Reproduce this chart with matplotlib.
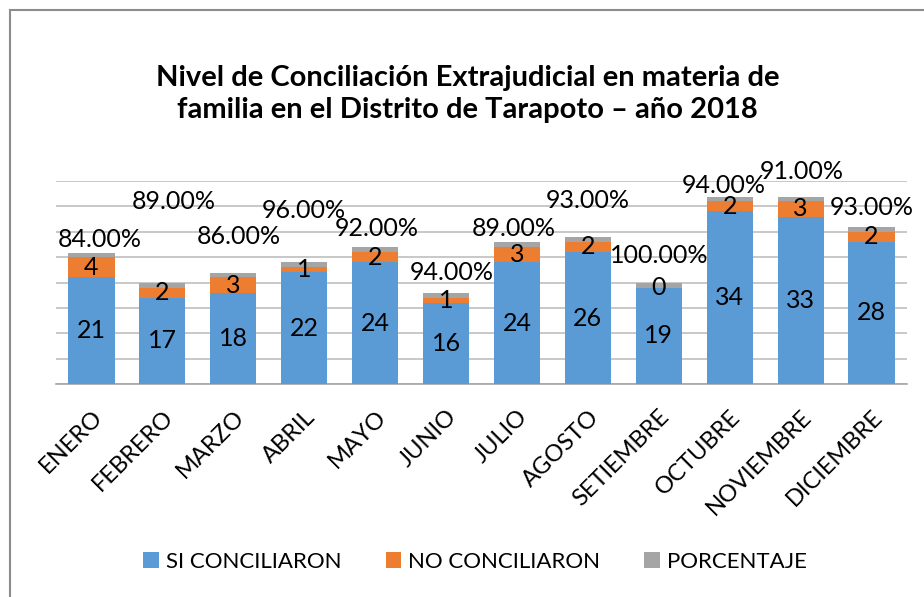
import matplotlib.pyplot as plt
import numpy as np
from matplotlib.patches import Rectangle

# Data
meses = ["ENERO", "FEBRERO", "MARZO", "ABRIL", "MAYO", "JUNIO",
         "JULIO", "AGOSTO", "SETIEMBRE", "OCTUBRE", "NOVIEMBRE", "DICIEMBRE"]
si_concilio = [21, 17, 18, 22, 24, 16, 24, 26, 19, 34, 33, 28]
no_concilio = [4, 2, 3, 1, 2, 1, 3, 2, 0, 2, 3, 2]
porcentaje = [84, 89, 86, 96, 92, 94, 89, 93, 100, 94, 91, 93]

# where Excel dropped the percentage labels (data units) and a small x shift in points
pct_label_y = [28.4, 35.9, 29.0, 34.1, 30.7, 21.9, 30.7, 36.1, 25.4, 39.2, 41.8, 34.7]
pct_label_dx = [6, 8, 4, 0, 1, 4, -2, 0, 0, -4, 1, 0]

BLUE = "#5B9BD5"
ORANGE = "#ED7D31"
GRAY = "#A5A5A5"
FONT = "Lato"

fig = plt.figure(figsize=(9.24, 5.97), dpi=100)
ax = fig.add_axes([56 / 924, 1 - 384 / 597, (907 - 56) / 924, (384 - 181) / 597])

x = np.arange(len(meses))
si = np.array(si_concilio)
no = np.array(no_concilio)
pct = np.array(porcentaje) / 100.0

w = 0.65
b1 = ax.bar(x, si, w, color=BLUE, label="SI CONCILIARON", zorder=3)
b2 = ax.bar(x, no, w, bottom=si, color=ORANGE, label="NO CONCILIARON", zorder=3)
b3 = ax.bar(x, pct, w, bottom=si + no, color=GRAY, label="PORCENTAJE", zorder=3)

# value labels inside segments
for i in range(len(meses)):
    ax.text(x[i], si[i] / 2, str(si[i]), ha="center", va="center",
            fontsize=18, family=FONT, zorder=4)
    ax.text(x[i], si[i] + no[i] / 2, str(no[i]), ha="center", va="center",
            fontsize=18, family=FONT, zorder=4)
    ax.annotate(f"{porcentaje[i]:.2f}%", (x[i], pct_label_y[i]),
                xytext=(pct_label_dx[i], 0), textcoords="offset points",
                ha="center", va="center", fontsize=18, family=FONT,
                annotation_clip=False, zorder=4)

ax.set_ylim(0, 40)
ax.set_xlim(-0.5, len(meses) - 0.5)
ax.set_yticks(np.arange(0, 41, 5))
ax.set_yticklabels([])
ax.tick_params(axis="y", length=0)
ax.tick_params(axis="x", length=0, pad=16)
ax.grid(axis="y", color="#BFBFBF", linewidth=1.2, zorder=0)
for s in ["top", "right", "left"]:
    ax.spines[s].set_visible(False)
ax.spines["bottom"].set_color("#A6A6A6")
ax.spines["bottom"].set_linewidth(1.2)

ax.set_xticks(x)
ax.set_xticklabels(meses, rotation=45, ha="right", va="top",
                   rotation_mode="anchor", fontsize=17, family=FONT)

fig.text(0.506, 0.843, "Nivel de Conciliación Extrajudicial en materia de\n"
         "familia en el Distrito de Tarapoto – año 2018",
         ha="center", va="center", fontsize=21, fontweight="bold",
         family=FONT, linespacing=1.3)

fig.legend(handles=[b1, b2, b3], loc="center", bbox_to_anchor=(0.514, 1 - 562 / 597),
           ncol=3, frameon=False, prop={"family": FONT, "size": 16},
           handlelength=0.7, handleheight=0.7, handletextpad=0.3, columnspacing=2.0)

# chart frame (only left/top edges are visible in the crop)
fig.patches.append(Rectangle((10 / 924, -0.1), 1.2, 1 - 10 / 597 + 0.1,
                             transform=fig.transFigure, fill=False,
                             edgecolor="#8C8C8C", linewidth=1.5))

fig.savefig("out.png", dpi=100)
